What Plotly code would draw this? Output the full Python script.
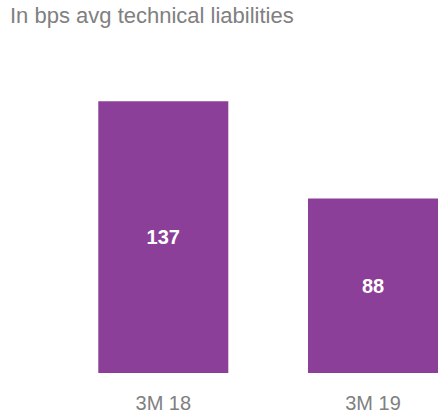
import plotly.graph_objects as go

# Risk cost, in basis points of average technical liabilities
periods = ["3M 18", "3M 19"]
values = [137, 88]

bar_color = "#8C3F98"
text_gray = "#808080"
font_family = "Liberation Sans, Arial, sans-serif"

fig = go.Figure(
    go.Bar(
        x=periods,
        y=values,
        width=0.62,
        marker=dict(color=bar_color, line=dict(width=0)),
        text=[str(v) for v in values],
        textposition="inside",
        insidetextanchor="middle",
        textangle=0,
        textfont=dict(family=font_family, size=20, color="white"),
        texttemplate="<b>%{text}</b>",
        hoverinfo="skip",
    )
)

fig.update_layout(
    width=443,
    height=419,
    margin=dict(l=0, r=0, t=73, b=46),
    paper_bgcolor="white",
    plot_bgcolor="white",
    showlegend=False,
    font=dict(family=font_family, color=text_gray),
    uniformtext=dict(mode="show", minsize=20),
    annotations=[
        dict(
            text="In bps avg technical liabilities",
            xref="paper", yref="paper",
            x=0, y=1,
            xshift=8,
            yshift=72,
            xanchor="left", yanchor="top",
            showarrow=False,
            font=dict(family=font_family, size=22, color=text_gray),
        )
    ],
)

fig.update_xaxes(
    range=[-0.7787, 1.3338],
    showgrid=False,
    zeroline=False,
    showline=False,
    ticks="",
    ticklabelstandoff=16,
    tickfont=dict(family=font_family, size=20, color=text_gray),
)
fig.update_yaxes(
    range=[0, 151.3],
    visible=False,
    showgrid=False,
    zeroline=False,
)

fig.write_html("out.html")
